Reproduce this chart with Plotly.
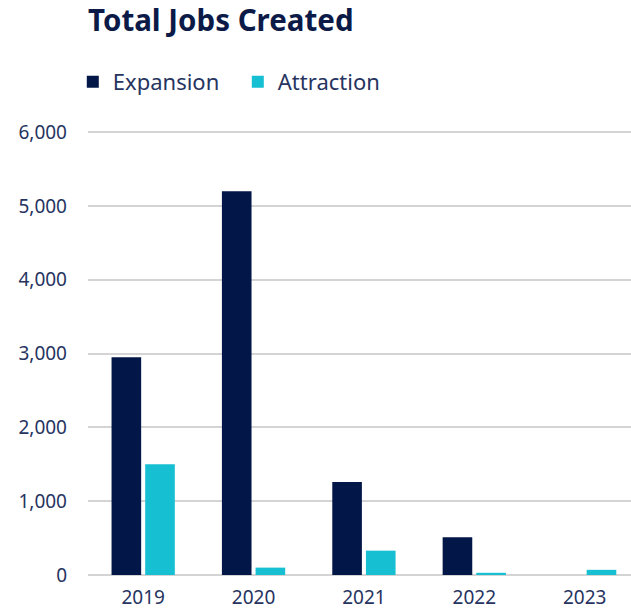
import plotly.graph_objects as go

# Jobs created per year, split by project type
years = ["2019", "2020", "2021", "2022", "2023"]
expansion = [2950, 5200, 1260, 510, 0]
attraction = [1500, 100, 330, 30, 70]
y_ticks = [0, 1000, 2000, 3000, 4000, 5000, 6000]

NAVY = "#021647"
CYAN = "#17bfd2"
TEXT = "#26345f"
FONT = "Noto Sans"

fig = go.Figure()
fig.add_trace(go.Bar(name="Expansion", x=years, y=expansion, marker_color=NAVY,
                     marker_line_width=0))
fig.add_trace(go.Bar(name="Attraction", x=years, y=attraction, marker_color=CYAN,
                     marker_line_width=0))

fig.update_layout(
    width=631, height=610,
    margin=dict(l=88, r=0, t=130, b=35),
    paper_bgcolor="white", plot_bgcolor="white",
    barmode="group", bargap=0.39, bargroupgap=0.12,
    font=dict(family=FONT, color=TEXT),
    title=dict(text="<b>Total Jobs Created</b>", x=0, xref="paper", xanchor="left",
               y=1 - 21 / 610, yref="container", yanchor="middle",
               font=dict(size=29.5, color="#0c1a48", family=FONT)),
    legend=dict(orientation="h", x=-0.028, xanchor="left", y=1.108, yanchor="middle",
                font=dict(size=22, color=TEXT), traceorder="normal",
                entrywidth=120, entrywidthmode="pixels",
                itemwidth=30, bgcolor="rgba(0,0,0,0)"),
    xaxis=dict(type="category", range=[-0.5, 4.42], showgrid=False, showline=False,
               ticks="", ticklabelstandoff=9, tickfont=dict(size=19, color=TEXT)),
    yaxis=dict(range=[0, 6030], tickvals=y_ticks, tickformat=",", showgrid=True,
               gridcolor="#d4d4d4", gridwidth=2, zeroline=True, zerolinecolor="#d4d4d4",
               zerolinewidth=2, showline=False, ticks="", ticklabelstandoff=20,
               tickfont=dict(size=19, color=TEXT)),
)

fig.write_html("out.html")
